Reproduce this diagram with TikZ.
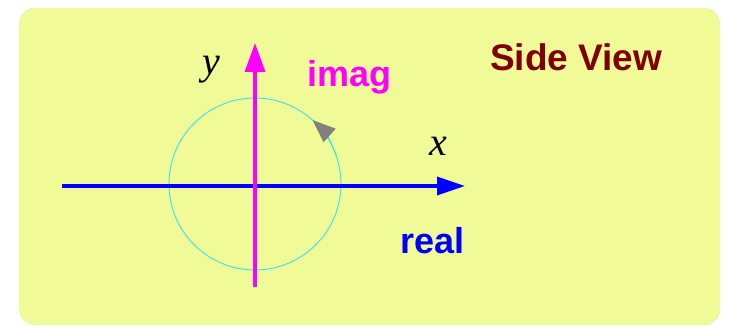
\documentclass[tikz,border=0pt]{standalone}
\usepackage{fontspec}
\setmainfont{Liberation Serif}
\setsansfont{Liberation Sans}
\usetikzlibrary{arrows.meta}

\definecolor{panel}{RGB}{240,250,150}
\definecolor{panelrand}{RGB}{205,250,225}
\definecolor{kreis}{RGB}{50,230,240}
\definecolor{titelrot}{RGB}{128,0,0}
\definecolor{imagrosa}{RGB}{255,0,255}

\begin{document}
\begin{tikzpicture}[
  x=1pt, y=-1pt,
  achse/.style={line width=3.5pt},
  kreislinie/.style={draw=kreis, line width=0.9pt},
  beschriftung/.style={
    font=\sffamily\bfseries\fontsize{36}{40}\selectfont,
    inner sep=0pt, anchor=base west
  },
  achsname/.style={
    font=\itshape\fontsize{40}{44}\selectfont,
    inner sep=0pt, anchor=base
  }
]
\useasboundingbox (0,0) rectangle (730,326);

% panel
\draw[fill=panel, draw=panelrand, rounded corners=16pt] (19,8) rectangle (720,325);

\coordinate (mitte)  at (255,184);
\coordinate (links)  at (62,186);
\coordinate (rechts) at (465,186);
\coordinate (unten)  at (255,287);
\coordinate (oben)   at (255,43);

% unit circle with direction of rotation
\draw[kreislinie] (mitte) circle[radius=86];
\draw[kreislinie, -{Triangle[length=23pt, width=18pt, color=gray]}]
  ([shift={(-18:86)}]mitte) arc[start angle=-18, end angle=-48, radius=86];

% axes
\draw[achse, blue, -{Triangle[length=28pt, width=18pt]}] (links) -- (rechts);
\draw[achse, imagrosa, -{Triangle[length=29pt, width=20pt]}] (unten) -- (oben);

\node[achsname] (ybuchst) at (211,75)  {y};
\node[achsname] (xbuchst) at (438,155) {x};
\node[beschriftung, text=imagrosa] (imag)  at (307,87)  {imag};
\node[beschriftung, text=blue]     (real)  at (400,253) {real};
\node[beschriftung, text=titelrot, font=\sffamily\bfseries\fontsize{37}{40}\selectfont]
  (titel) at (490,71) {Side View};

\end{tikzpicture}
\end{document}
